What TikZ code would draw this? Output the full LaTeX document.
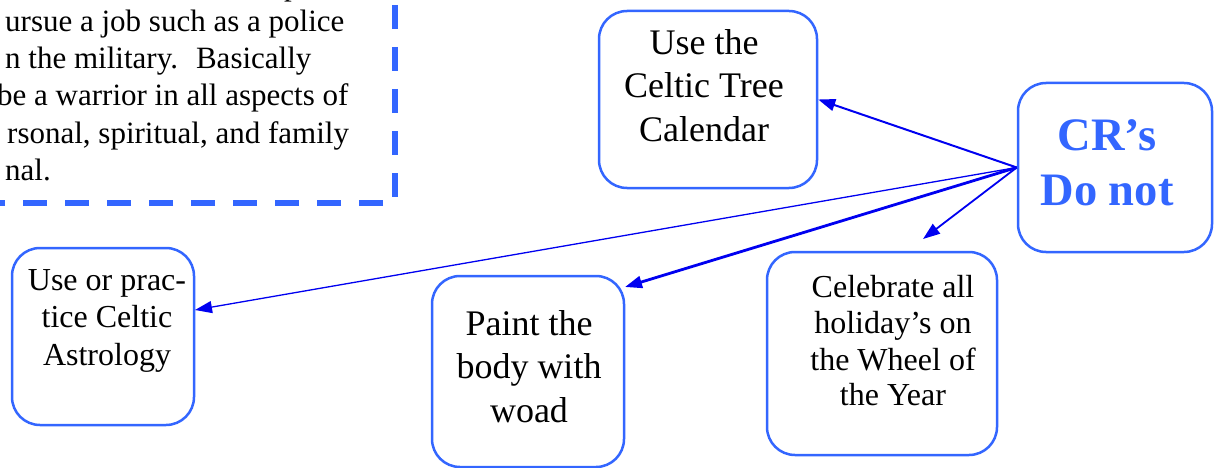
\documentclass[tikz,border=0pt]{standalone}
\usepackage{fontspec}
\setmainfont{LiberationSerif}[Extension=.ttf, UprightFont=*-Regular, BoldFont=*-Bold, ItalicFont=*-Italic, BoldItalicFont=*-BoldItalic]
\usetikzlibrary{arrows.meta}
\definecolor{bbord}{RGB}{51,102,255}
\definecolor{arr}{RGB}{0,0,240}
\begin{document}
\begin{tikzpicture}[x=1pt,y=-1pt,
  box/.style={draw=bbord, line width=2.5pt, rounded corners=28pt, inner sep=0pt},
  tbig/.style={font=\fontsize{36}{43}\selectfont, inner sep=0pt, anchor=base},
  tmid/.style={font=\fontsize{32}{37}\selectfont, inner sep=0pt, anchor=base},
  tleft/.style={font=\fontsize{31}{37}\selectfont, inner sep=0pt, anchor=base west},
  tcr/.style={font=\fontsize{46.5}{55}\selectfont\bfseries, text=bbord, inner sep=0pt, anchor=base},
  conn/.style={draw=arr, -{Triangle[length=17pt,width=12pt]}},
  dashline/.style={draw=bbord, line width=6pt, dash pattern=on 24pt off 18pt}
]
\useasboundingbox (0,0) rectangle (1217,468);
\clip (0,0) rectangle (1217,468);

% dashed text box (partly outside the picture)
\draw[dashline] (395,5) -- (395,203);
\draw[dashline] (383,203) -- (-40,203);
\node[tleft] (d0) at (284,-4.5) {p};
\node[tleft] (d1) at (5,32) {ursue a job such as a police};
\node[tleft] (d2) at (5,69) {n the military.~ Basically};
\node[tleft] (d3) at (-3,106) {be a warrior in all aspects of};
\node[tleft] (d4) at (7,143) {rsonal, spiritual, and family};
\node[tleft] (d5) at (5,180) {nal.};

% boxes
\node[box, minimum width=218pt, minimum height=177pt] (cal) at (708,99.5) {};
\node[box, minimum width=194pt, minimum height=169pt] (cr) at (1115,167.5) {};
\node[box, minimum width=182pt, minimum height=177pt] (astro) at (103,336.5) {};
\node[box, minimum width=192pt, minimum height=191pt] (woad) at (528,371.5) {};
\node[box, minimum width=230pt, minimum height=203pt] (cel) at (882,353.5) {};

% texts
\node[tbig] (cal1) at (704,55) {Use the};
\node[tbig] (cal2) at (704,98) {Celtic Tree};
\node[tbig] (cal3) at (704,142) {Calendar};

\node[tcr] (cr1) at (1107,150) {CR’s};
\node[tcr] (cr2) at (1107,205) {Do not};

\node[tmid] (as1) at (107,290) {Use or prac-};
\node[tmid] (as2) at (107,327) {tice Celtic};
\node[tmid] (as3) at (107,365) {Astrology};

\node[tbig] (wo1) at (529,335) {Paint the};
\node[tbig] (wo2) at (529,378) {body with};
\node[tbig] (wo3) at (529,422) {woad};

\node[tmid] (ce1) at (893,297) {Celebrate all};
\node[tmid] (ce2) at (893,333) {holiday’s on};
\node[tmid] (ce3) at (893,370) {the Wheel of};
\node[tmid] (ce4) at (893,405) {the Year};

% connector ends
\coordinate (tAstro) at (195,310);
\coordinate (tWoad) at (625,287);
\coordinate (tCel) at (923,239);

\draw[conn, line width=2pt] (cr.west) -- (cal.east);
\draw[conn, line width=1.3pt] (cr.west) -- (tAstro);
\draw[conn, line width=2.8pt] (cr.west) -- (tWoad);
\draw[conn, line width=1.8pt] (cr.west) -- (tCel);
\end{tikzpicture}
\end{document}
